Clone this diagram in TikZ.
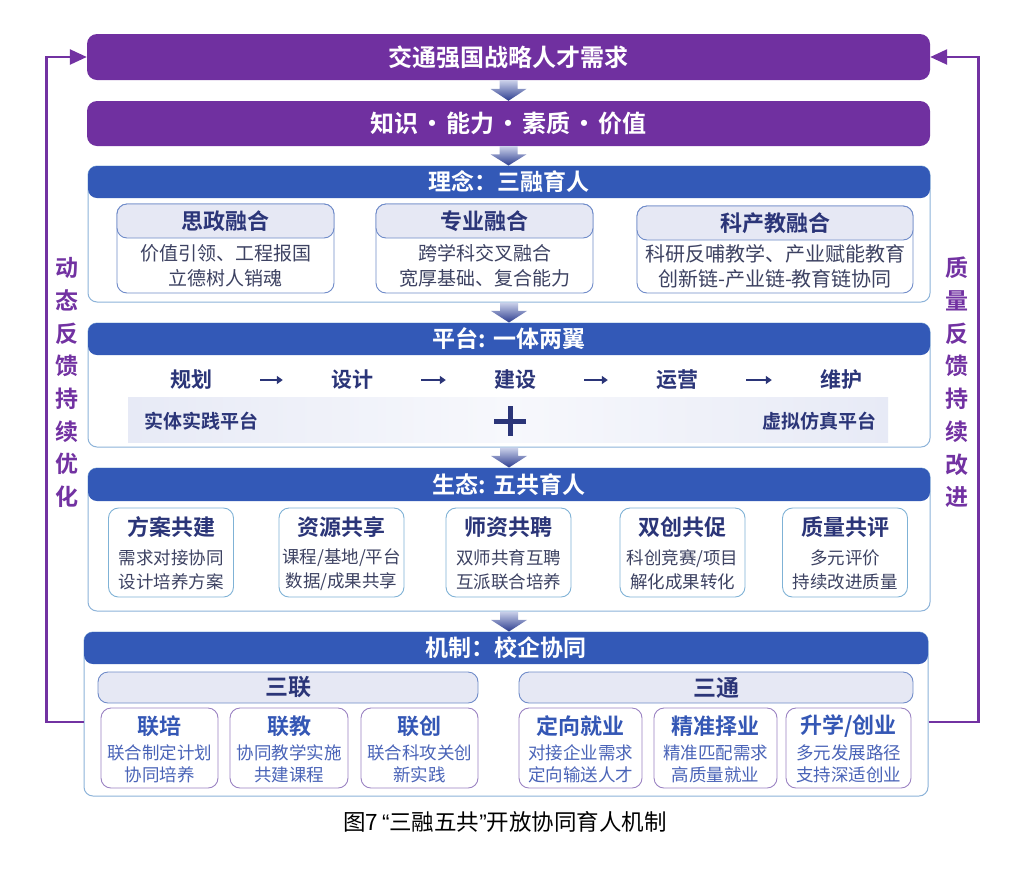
\documentclass[tikz,border=0pt]{standalone}
\usepackage{fontspec}
\setmainfont{Noto Sans CJK SC}[BoldFont={Noto Sans CJK SC Bold}]
\newfontfamily\latinq{Liberation Sans}
\usetikzlibrary{arrows.meta,calc}
\definecolor{barpurple}{HTML}{7030A0}
\definecolor{fbpurple}{HTML}{7232A2}
\definecolor{hdrblue}{HTML}{3359B7}
\definecolor{panelline}{HTML}{8DB3D9}
\definecolor{subline}{HTML}{6F8BC9}
\definecolor{subfill}{HTML}{E6E8F4}
\definecolor{navy}{HTML}{2B3578}
\definecolor{bodygray}{HTML}{3D4262}
\definecolor{mechblue}{HTML}{3457B5}
\definecolor{mbody}{HTML}{4A64B8}
\definecolor{mechline}{HTML}{9A82C2}
\definecolor{ecoline}{HTML}{7FB2D6}
\definecolor{arrowtop}{HTML}{CBD1EA}
\definecolor{arrowbot}{HTML}{2C3D8F}
\definecolor{stripside}{HTML}{E7EAF6}
\definecolor{stripmid}{HTML}{F7F8FC}
\newcommand\flowdown[2]{%
  \shade[top color=arrowtop,bottom color=arrowbot]
  let \p1=(#1.south), \p2=(#2.north), \n1={0.42*(\y1-\y2)} in
  (\x1-9pt,\y1) -- (\x1+9pt,\y1) -- (\x1+9pt,\y1-\n1) -- (\x1+18pt,\y1-\n1)
  -- (\x1,\y2) -- (\x1-18pt,\y1-\n1) -- (\x1-9pt,\y1-\n1) -- cycle;}
\begin{document}
\begin{tikzpicture}[x=1pt,y=-1pt,
  bar/.style={fill=barpurple, rounded corners=10pt, text=white, font=\bfseries\fontsize{24}{28}\selectfont, minimum width=843pt, minimum height=46pt, inner sep=0pt},
  panel/.style={draw=panelline, line width=1pt, fill=white, rounded corners=9pt, minimum width=842pt, inner sep=0pt},
  hdr/.style={fill=hdrblue, rounded corners=9pt, text=white, font=\bfseries\fontsize{23}{27}\selectfont, minimum width=842pt, minimum height=32pt, inner sep=0pt},
  subbox/.style={draw=subline, line width=0.9pt, fill=white, rounded corners=10pt, inner sep=0pt},
  subhead/.style={draw=subline, line width=0.9pt, fill=subfill, rounded corners=10pt, inner sep=0pt, text=navy, font=\bfseries\fontsize{22}{26}\selectfont},
  bodytxt/.style={align=center, text=bodygray, font=\fontsize{19}{25}\selectfont, inner sep=0pt},
  stage/.style={text=navy, font=\bfseries\fontsize{21}{25}\selectfont, inner sep=2pt},
  stagearrow/.style={draw=navy, line width=2.4pt, -{Triangle[length=6pt,width=8pt]}, shorten <=46pt, shorten >=46pt},
  strip/.style={left color=stripside, right color=stripside, middle color=stripmid, minimum width=760pt, minimum height=45pt, inner sep=0pt},
  striptxt/.style={text=navy, font=\bfseries\fontsize{19}{23}\selectfont, inner sep=0pt},
  ecobox/.style={draw=ecoline, line width=0.9pt, fill=white, rounded corners=10pt, minimum width=125pt, minimum height=89pt, inner sep=0pt},
  ecotitle/.style={text=navy, font=\bfseries\fontsize{22}{26}\selectfont, inner sep=0pt},
  ecobody/.style={align=center, text=bodygray, font=\fontsize{17.5}{24}\selectfont, inner sep=0pt},
  mechbar/.style={draw=subline, line width=0.9pt, fill=subfill, rounded corners=10pt, minimum height=31pt, text=navy, font=\bfseries\fontsize{23}{27}\selectfont, inner sep=0pt},
  mechbox/.style={draw=mechline, line width=0.9pt, fill=white, rounded corners=10pt, minimum height=80pt, inner sep=0pt},
  mechtitle/.style={text=mechblue, font=\bfseries\fontsize{22}{26}\selectfont, inner sep=0pt},
  mechbodytxt/.style={align=center, text=mbody, font=\fontsize{17.5}{22}\selectfont, inner sep=0pt},
  fb/.style={draw=fbpurple, line width=2.5pt, -{Triangle[length=17pt,width=15pt]}},
  sidetxt/.style={align=center, text=fbpurple, font=\bfseries\fontsize{23}{32.7}\selectfont, inner sep=0pt},
  captxt/.style={text=black, font=\fontsize{22.5}{27}\selectfont, inner sep=0pt}
]
\useasboundingbox[fill=white] (0,0) rectangle (1024,879);

% top bars
\node[bar] (bar1) at (508.5,57) {交通强国战略人才需求};
\node[bar, minimum height=45pt] (bar2) at (508.5,123.5) {知识\hspace{2pt}·\hspace{2pt}能力\hspace{2pt}·\hspace{2pt}素质\hspace{2pt}·\hspace{2pt}价值};

% panel 1: 理念
\node[panel, minimum height=136pt] (p1) at (509,234) {};
\node[hdr] (h1) at (509,182) {理念：三融育人};
\node[subbox, minimum width=217pt, minimum height=89pt] (a1) at (225.5,248.5) {};
\node[subhead, minimum width=217pt, minimum height=34pt] (a1h) at (225.5,221) {思政融合};
\node[bodytxt] (a1b) at (225.5,265.5) {价值引领、工程报国\\立德树人销魂};
\node[subbox, minimum width=217pt, minimum height=89pt] (a2) at (484.5,248.5) {};
\node[subhead, minimum width=217pt, minimum height=34pt] (a2h) at (484.5,221) {专业融合};
\node[bodytxt] (a2b) at (484.5,265.5) {跨学科交叉融合\\宽厚基础、复合能力};
\node[subbox, minimum width=276pt, minimum height=87pt] (a3) at (775,249.5) {};
\node[subhead, minimum width=276pt, minimum height=34pt] (a3h) at (775,223) {科产教融合};
\node[bodytxt, font=\fontsize{20}{25}\selectfont] (a3b) at (775,266) {科研反哺教学、产业赋能教育\\创新链-产业链-教育链协同};

% panel 2: 平台
\node[panel, minimum height=124pt] (p2) at (509,385) {};
\node[hdr] (h2) at (509,339) {平台: 一体两翼};
\node[stage] (s1) at (191,380) {规划};
\node[stage] (s2) at (352,380) {设计};
\node[stage] (s3) at (515,380) {建设};
\node[stage] (s4) at (677,380) {运营};
\node[stage] (s5) at (841,380) {维护};
\draw[stagearrow] (s1) -- (s2);
\draw[stagearrow] (s2) -- (s3);
\draw[stagearrow] (s3) -- (s4);
\draw[stagearrow] (s4) -- (s5);
\node[strip] (strip) at (508,419.5) {};
\node[striptxt] (phys) at (201,421) {实体实践平台};
\node[striptxt] (virt) at (819,421) {虚拟仿真平台};
\node[inner sep=0pt, minimum size=1pt] (plus) at (510,421) {};
\draw[navy, line width=5pt] ($(plus)+(-16,0)$) -- ($(plus)+(16,0)$);
\draw[navy, line width=5pt] ($(plus)+(0,-15)$) -- ($(plus)+(0,15)$);

% panel 3: 生态
\node[panel, minimum height=143pt] (p3) at (509,539.5) {};
\node[hdr, minimum height=33pt] (h3) at (509,484.5) {生态: 五共育人};
\foreach \n/\cx/\t/\b in {e1/171/方案共建/{需求对接协同\\设计培养方案},
                          e2/341.5/资源共享/{课程/基地/平台\\数据/成果共享},
                          e3/508.5/师资共聘/{双师共育互聘\\互派联合培养},
                          e4/682.5/双创共促/{科创竞赛/项目\\解化成果转化},
                          e5/845/质量共评/{多元评价\\持续改进质量}}{
  \node[ecobox] (\n) at (\cx,552.5) {};
  \node[ecotitle] (\n t) at (\cx,527) {\t};
  \node[ecobody] (\n b) at (\cx,570) {\b};
}

% panel 4: 机制
\node[panel, minimum width=844pt, minimum height=164pt] (p4) at (506,714) {};
\node[hdr, minimum width=844pt] (h4) at (506,648) {机制：校企协同};
\node[mechbar, minimum width=380pt] (sl) at (288,687.5) {三联};
\node[mechbar, minimum width=394pt] (st) at (716,687.5) {三通};
\foreach \n/\cx/\w/\t/\b in {m1/159.5/117/联培/{联合制定计划\\协同培养},
                             m2/289/118/联教/{协同教学实施\\共建课程},
                             m3/419.5/117/联创/{联合科攻关创\\新实践},
                             m4/580.5/123/定向就业/{对接企业需求\\定向输送人才},
                             m5/715.5/123/精准择业/{精准匹配需求\\高质量就业},
                             m6/848.5/125/{升学/创业}/{多元发展路径\\支持深适创业}}{
  \node[mechbox, minimum width=\w pt] (\n) at (\cx,748) {};
  \node[mechtitle] (\n t) at (\cx,726) {\t};
  \node[mechbodytxt] (\n b) at (\cx,764) {\b};
}

% flow arrows
\flowdown{bar1}{bar2}
\flowdown{bar2}{p1}
\flowdown{p1}{p2}
\flowdown{p2}{p3}
\flowdown{p3}{p4}

% feedback loops
\draw[fb] ([yshift=-8pt]p4.west) -- ++(-37,0) |- (bar1.west);
\draw[fb] ([yshift=-8pt]p4.east) -- ++(50,0) |- (bar1.east);
\node[sidetxt] (lt) at (67,382.5) {动\\态\\反\\馈\\持\\续\\优\\化};
\node[sidetxt] (rt) at (957,382.5) {质\\量\\反\\馈\\持\\续\\改\\进};

% caption
\node[captxt] (cap) at (505,822) {图7\hspace{4pt}{\latinq “}三融五共{\latinq ”}开放协同育人机制};
\end{tikzpicture}
\end{document}
